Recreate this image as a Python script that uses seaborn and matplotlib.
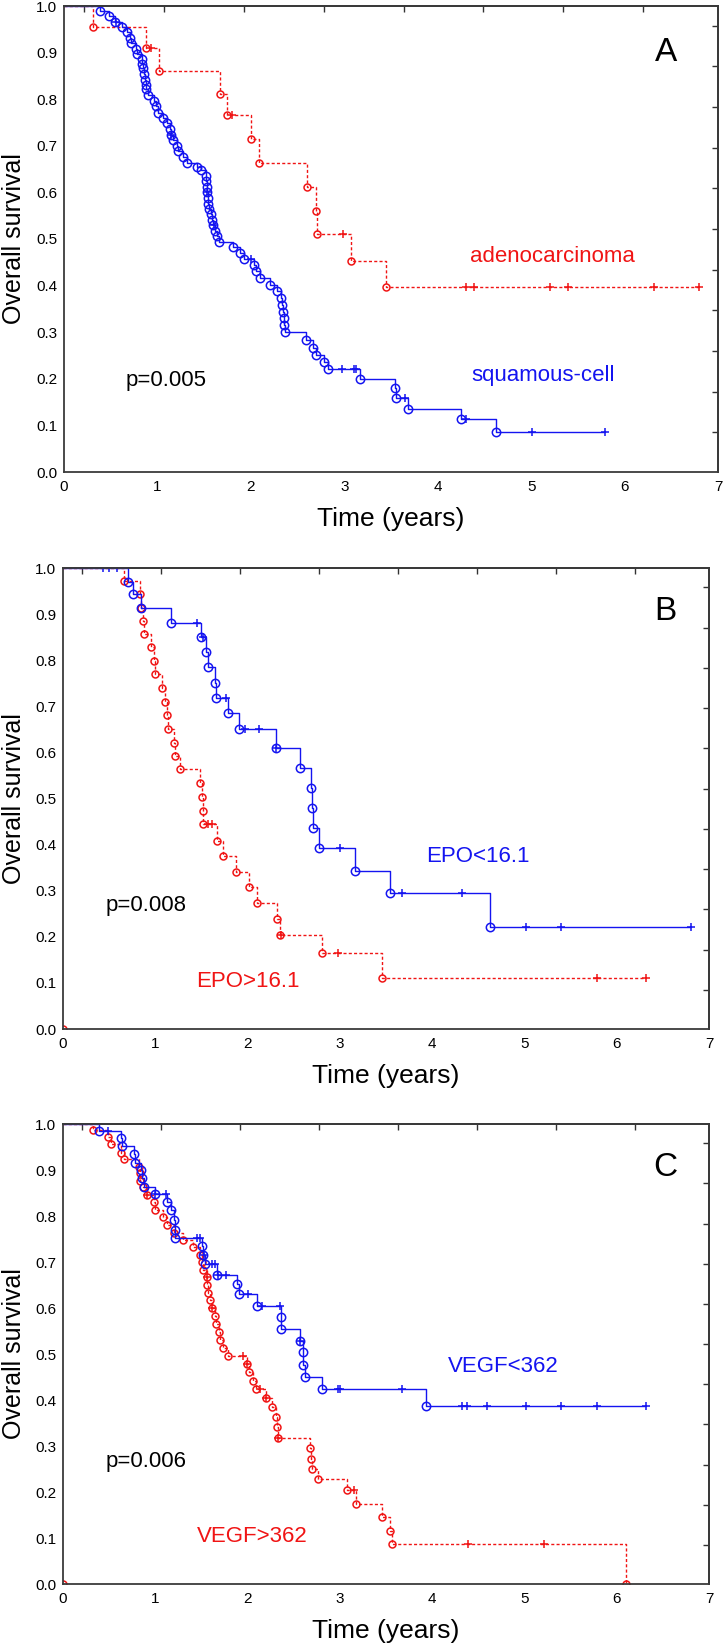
import numpy as np
import pandas as pd
import matplotlib
matplotlib.use('Agg')
import matplotlib.pyplot as plt
import seaborn as sns

sns.set_theme(style='white')
plt.rcParams['font.family'] = ['Liberation Sans', 'DejaVu Sans']

RED = '#f01414'
BLUE = '#1414f0'

# ---- Panel A: histology ----
adeno_t = [0.31, 0.88, 1.02, 1.67, 1.75, 2.00, 2.09, 2.60, 2.70, 2.71, 3.07, 3.45]
adeno_s = [0.955, 0.909, 0.861, 0.812, 0.766, 0.714, 0.664, 0.612, 0.561, 0.510, 0.453, 0.397]
adeno_c = [0.93, 1.80, 2.99, 4.30, 4.39, 5.20, 5.39, 6.31, 6.80]

squam_t = [0.38, 0.48, 0.55, 0.62, 0.67, 0.71, 0.72, 0.77, 0.78, 0.83,
           0.84, 0.85, 0.86, 0.87, 0.875, 0.88, 0.90, 0.96, 0.99, 1.01,
           1.06, 1.10, 1.13, 1.14, 1.17, 1.21, 1.22, 1.27, 1.32, 1.42,
           1.47, 1.52, 1.52, 1.53, 1.53, 1.54, 1.54, 1.55, 1.57, 1.58,
           1.60, 1.62, 1.64, 1.66, 1.81, 1.88, 1.93, 2.03, 2.06, 2.10,
           2.20, 2.28, 2.32, 2.33, 2.34, 2.35, 2.36, 2.37, 2.59, 2.66,
           2.70, 2.78, 2.83, 3.17, 3.54, 3.55, 3.68, 4.25, 4.62]
squam_s = [0.990, 0.978, 0.966, 0.955, 0.944, 0.932, 0.921, 0.908, 0.898, 0.887,
           0.876, 0.866, 0.854, 0.842, 0.831, 0.821, 0.809, 0.796, 0.785, 0.771,
           0.759, 0.748, 0.736, 0.723, 0.712, 0.700, 0.688, 0.676, 0.664, 0.655,
           0.648, 0.636, 0.624, 0.612, 0.600, 0.588, 0.576, 0.564, 0.553, 0.541,
           0.530, 0.518, 0.506, 0.494, 0.482, 0.471, 0.458, 0.444, 0.431, 0.417,
           0.402, 0.388, 0.373, 0.359, 0.344, 0.330, 0.315, 0.300, 0.284, 0.267,
           0.252, 0.236, 0.221, 0.200, 0.180, 0.158, 0.136, 0.113, 0.085]
squam_c = [0.56, 1.14, 1.53, 1.61, 2.00, 2.98, 3.10, 3.13, 3.65, 4.30, 5.01, 5.79]

# ---- Panel B: EPO ----
epo_lo_t = [0.70, 0.76, 0.85, 1.17, 1.50, 1.55, 1.57, 1.65, 1.66, 1.79,
            1.91, 2.31, 2.57, 2.69, 2.70, 2.71, 2.77, 3.16, 3.54, 4.63]
epo_lo_s = [0.970, 0.943, 0.913, 0.881, 0.850, 0.818, 0.785, 0.751, 0.719, 0.685,
            0.650, 0.610, 0.567, 0.522, 0.479, 0.435, 0.392, 0.343, 0.294, 0.221]
epo_lo_c = [0.43, 0.50, 0.58, 1.45, 1.52, 1.77, 1.97, 2.12, 2.31, 3.00,
            3.67, 4.32, 5.02, 5.40, 6.81]

epo_hi_t = [0.66, 0.83, 0.85, 0.87, 0.88, 0.95, 0.99, 1.00, 1.07, 1.10,
            1.13, 1.14, 1.20, 1.21, 1.27, 1.48, 1.51, 1.515, 1.52, 1.67,
            1.73, 1.88, 2.02, 2.10, 2.32, 2.35, 2.81, 3.46]
epo_hi_s = [0.972, 0.944, 0.913, 0.886, 0.857, 0.828, 0.799, 0.769, 0.739, 0.710,
            0.681, 0.651, 0.621, 0.592, 0.563, 0.533, 0.503, 0.473, 0.444, 0.408,
            0.376, 0.341, 0.307, 0.274, 0.239, 0.204, 0.164, 0.110]
epo_hi_c = [1.57, 1.61, 2.36, 2.98, 5.79, 6.32]
epo_hi_origin = [0.0]

# ---- Panel C: VEGF ----
vegf_lo_t = [0.39, 0.625, 0.635, 0.77, 0.78, 0.85, 0.86, 0.88, 1.00, 1.13,
             1.17, 1.20, 1.21, 1.215, 1.51, 1.52, 1.54, 1.67, 1.89, 1.91,
             2.10, 2.36, 2.365, 2.57, 2.60, 2.605, 2.62, 2.81, 3.93]
vegf_lo_s = [0.985, 0.969, 0.952, 0.934, 0.916, 0.899, 0.882, 0.864, 0.848, 0.831,
             0.812, 0.791, 0.769, 0.753, 0.735, 0.715, 0.696, 0.672, 0.652, 0.630,
             0.605, 0.580, 0.554, 0.529, 0.504, 0.476, 0.450, 0.423, 0.388]
vegf_lo_c = [0.49, 1.00, 1.12, 1.45, 1.48, 1.53, 1.61, 1.65, 1.68, 1.77,
             2.00, 2.16, 2.35, 2.57, 2.98, 3.00, 3.67, 4.32, 4.38, 4.59,
             5.02, 5.40, 5.79, 6.32]

vegf_hi_t = [0.32, 0.49, 0.52, 0.625, 0.66, 0.82, 0.83, 0.835, 0.87, 0.91,
             0.99, 1.00, 1.08, 1.13, 1.20, 1.30, 1.41, 1.48, 1.51, 1.52,
             1.56, 1.565, 1.57, 1.59, 1.61, 1.65, 1.66, 1.69, 1.70, 1.73,
             1.79, 1.99, 2.02, 2.06, 2.09, 2.20, 2.27, 2.31, 2.315, 2.33,
             2.68, 2.69, 2.695, 2.76, 3.08, 3.17, 3.46, 3.54, 3.56, 6.10]
vegf_hi_s = [0.987, 0.972, 0.957, 0.938, 0.924, 0.907, 0.893, 0.877, 0.864, 0.846,
             0.831, 0.813, 0.797, 0.780, 0.762, 0.748, 0.732, 0.715, 0.700, 0.683,
             0.667, 0.650, 0.633, 0.617, 0.599, 0.583, 0.565, 0.548, 0.530, 0.514,
             0.496, 0.478, 0.460, 0.442, 0.425, 0.404, 0.384, 0.364, 0.341, 0.318,
             0.295, 0.272, 0.250, 0.228, 0.204, 0.175, 0.146, 0.116, 0.087, 0.0]
vegf_hi_c = [0.91, 1.56, 1.61, 1.95, 1.99, 2.13, 2.20, 2.33, 3.15, 4.39, 5.21]
vegf_hi_origin = [0.0]

x_ticks = [0, 1, 2, 3, 4, 5, 6, 7]
y_ticks = [0.0, 0.1, 0.2, 0.3, 0.4, 0.5, 0.6, 0.7, 0.8, 0.9, 1.0]

W, H = 725, 1651
fig = plt.figure(figsize=(W / 100, H / 100), dpi=100)


def px_axes(left, right, top, bottom):
    return fig.add_axes([left / W, 1 - bottom / H, (right - left) / W, (bottom - top) / H])


def km(ax, t, s, cens, color, dashed, ms):
    end = max([t[-1]] + list(cens))
    df = pd.DataFrame({'time': [0.0] + list(t) + [end],
                       'surv': [1.0] + list(s) + [s[-1]]})
    ls = (0, (2.2, 1.6)) if dashed else '-'
    sns.lineplot(data=df, x='time', y='surv', ax=ax, estimator=None, sort=False,
                 drawstyle='steps-post', color=color, lw=1.0, linestyle=ls)
    ax.plot(t, s, 'o', ls='none', mfc='none', mec=color, ms=ms, mew=1.1)
    idx = np.searchsorted(t, cens, side='right') - 1
    cy = [s[i] if i >= 0 else 1.0 for i in idx]
    ax.plot(cens, cy, '+', ls='none', color=color, ms=6, mew=1.1)


def style(ax):
    ax.set_xlim(0, 7)
    ax.set_ylim(0, 1)
    ax.set_xticks(x_ticks)
    ax.set_xticklabels([str(v) for v in x_ticks])
    ax.set_yticks(y_ticks)
    ax.set_yticklabels(['%.1f' % v for v in y_ticks])
    ax.tick_params(axis='both', direction='in', length=4, width=1, color='#333333',
                   labelsize=11, labelcolor='black', top=False, right=False)
    ax.tick_params(axis='x', pad=6)
    ax.tick_params(axis='y', pad=5)
    for sp in ax.spines.values():
        sp.set_visible(True)
        sp.set_color('#3a3a3a')
        sp.set_linewidth(1.3)
    ax.set_xlabel('Time (years)', fontsize=19, color='black')
    ax.set_ylabel('Overall survival', fontsize=18, color='black')
    ax.xaxis.set_label_coords(0.5, -0.075)
    ax.yaxis.set_label_coords(-0.058, 0.5)
    # decorative inner ticks on the top and right frame
    top = ax.secondary_xaxis('top')
    top.set_xticks(np.arange(0.21, 7.0, 0.856))
    top.set_xticklabels([])
    top.tick_params(direction='in', length=4, width=1, color='#333333')
    right = ax.secondary_yaxis('right')
    right.set_yticks(np.arange(0.958, 0.05, -0.0873))
    right.set_yticklabels([])
    right.tick_params(direction='in', length=4, width=1, color='#333333')
    ax.set_facecolor('white')


# Panel A
axA = px_axes(64, 718, 6, 472)
km(axA, adeno_t, adeno_s, adeno_c, RED, True, 5.0)
km(axA, squam_t, squam_s, squam_c, BLUE, False, 6.0)
style(axA)
axA.text(6.44, 0.90, 'A', fontsize=24, ha='center', va='center', color='black')
axA.text(5.23, 0.462, 'adenocarcinoma', fontsize=16, ha='center', va='center', color=RED)
axA.text(5.13, 0.208, 'squamous-cell', fontsize=16, ha='center', va='center', color=BLUE)
axA.text(1.09, 0.197, 'p=0.005', fontsize=16, ha='center', va='center', color='black')

# Panel B
axB = px_axes(63, 709, 568, 1029)
km(axB, epo_hi_t, epo_hi_s, epo_hi_c, RED, True, 5.0)
km(axB, epo_lo_t, epo_lo_s, epo_lo_c, BLUE, False, 6.0)
axB.plot(epo_hi_origin, epo_hi_origin, 'o', mfc='none', mec=RED, ms=5.0, mew=1.1)
style(axB)
axB.text(6.53, 0.905, 'B', fontsize=24, ha='center', va='center', color='black')
axB.text(4.50, 0.375, 'EPO<16.1', fontsize=16, ha='center', va='center', color=BLUE)
axB.text(0.90, 0.267, 'p=0.008', fontsize=16, ha='center', va='center', color='black')
axB.text(2.00, 0.102, 'EPO>16.1', fontsize=16, ha='center', va='center', color=RED)

# Panel C
axC = px_axes(63, 709, 1124, 1584)
km(axC, vegf_hi_t, vegf_hi_s, vegf_hi_c, RED, True, 5.0)
km(axC, vegf_lo_t, vegf_lo_s, vegf_lo_c, BLUE, False, 6.0)
axC.plot(vegf_hi_origin, vegf_hi_origin, 'o', mfc='none', mec=RED, ms=5.0, mew=1.1)
style(axC)
axC.text(6.53, 0.906, 'C', fontsize=24, ha='center', va='center', color='black')
axC.text(4.77, 0.472, 'VEGF<362', fontsize=16, ha='center', va='center', color=BLUE)
axC.text(0.90, 0.267, 'p=0.006', fontsize=16, ha='center', va='center', color='black')
axC.text(2.05, 0.104, 'VEGF>362', fontsize=16, ha='center', va='center', color=RED)

fig.savefig('out.png', dpi=100, facecolor='white')
